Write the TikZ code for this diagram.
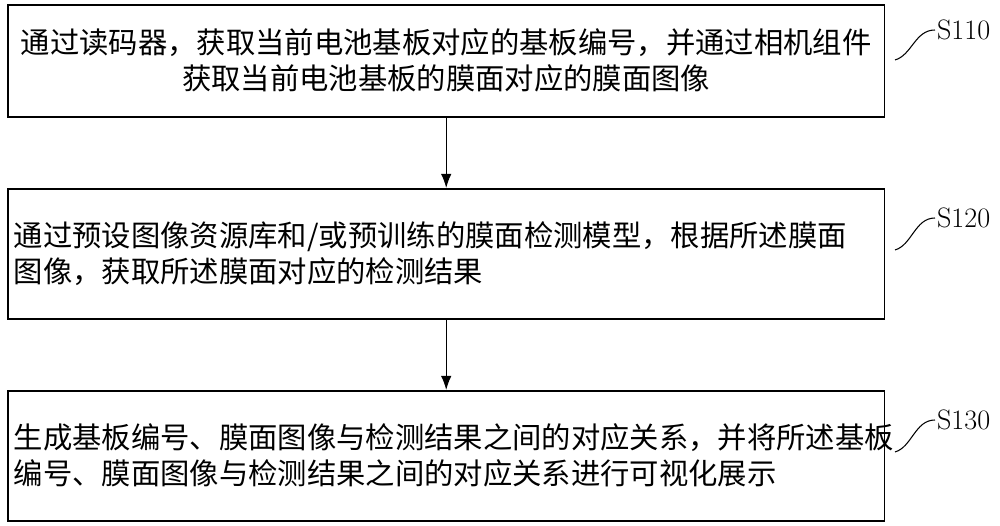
\documentclass[tikz,border=0pt]{standalone}
\usepackage{fontspec}
\usetikzlibrary{arrows.meta}
\newfontfamily\cjk{Noto Sans CJK SC}
\begin{document}
\begin{tikzpicture}[x=0.02cm,y=-0.02cm,
  stepbox/.style={draw,line width=0.9pt,minimum width=17.54cm,inner sep=0pt,anchor=north west},
  txt/.style={font=\cjk\fontsize{16.7}{20.5}\selectfont,text width=17.3cm},
  lbl/.style={font=\fontsize{16}{18}\selectfont,anchor=west,inner sep=1pt},
  arr/.style={-{Latex[length=8pt,width=6pt]},line width=0.8pt}]
\useasboundingbox (0,0) rectangle (1000,526);
\node[stepbox,minimum height=2.24cm] (b1) at (7,4) {};
\node[stepbox,minimum height=2.6cm] (b2) at (7,188) {};
\node[stepbox,minimum height=2.6cm] (b3) at (7,390) {};
\node[txt,align=center] (t1) at (b1.center) {通过读码器，获取当前电池基板对应的基板编号，并通过相机组件\\获取当前电池基板的膜面对应的膜面图像};
\node[txt,align=left] (t2) at (b2.center) {通过预设图像资源库和/或预训练的膜面检测模型，根据所述膜面\\图像，获取所述膜面对应的检测结果};
\node[txt,align=left] (t3) at (b3.center) {生成基板编号、膜面图像与检测结果之间的对应关系，并将所述基板\\编号、膜面图像与检测结果之间的对应关系进行可视化展示};
\draw[arr] (b1.south) -- (b2.north);
\draw[arr] (b2.south) -- (b3.north);
\node[lbl] (s1) at (935,30) {S110};
\node[lbl] (s2) at (935,218) {S120};
\node[lbl] (s3) at (935,420) {S130};
\coordinate (c1) at (895,60);
\coordinate (c2) at (895,250);
\coordinate (c3) at (895,452);
\draw[line width=0.6pt] (c1) .. controls (912,55) and (915,30) .. (s1.west);
\draw[line width=0.6pt] (c2) .. controls (912,245) and (915,218) .. (s2.west);
\draw[line width=0.6pt] (c3) .. controls (912,447) and (915,420) .. (s3.west);
\end{tikzpicture}
\end{document}
